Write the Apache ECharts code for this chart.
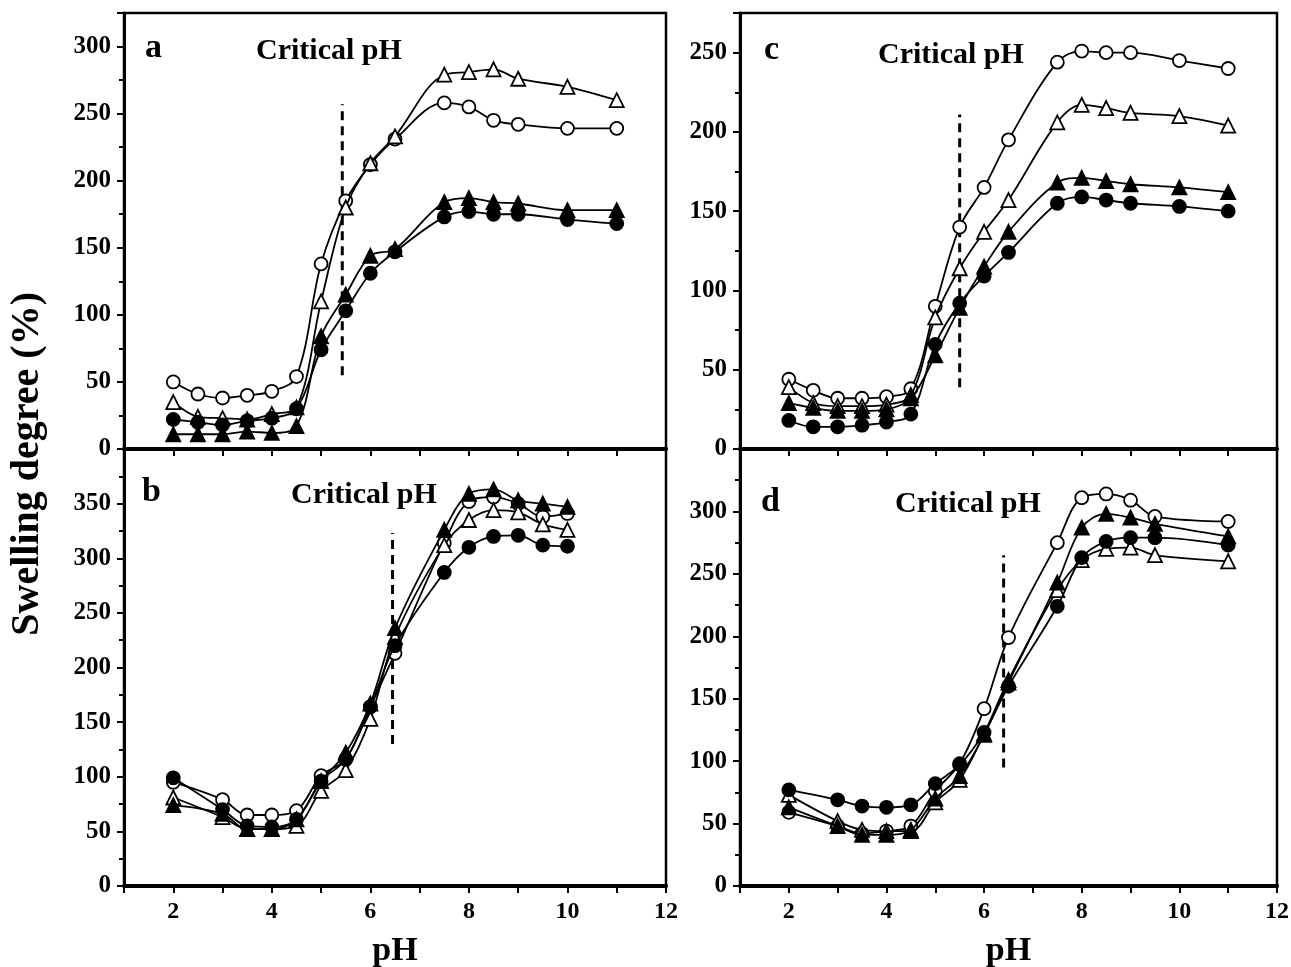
<!DOCTYPE html>
<html>
<head>
<meta charset="utf-8">
<script src="https://cdn.jsdelivr.net/npm/echarts@6/dist/echarts.min.js"></script>
<style>
html,body{margin:0;padding:0;background:#fff;}
#main{width:1291px;height:967px;}
</style>
</head>
<body>
<div id="main"></div>
<script>
// ---------- DATA ----------
const panelNames = ['a', 'b', 'c', 'd'];
const xTickLabels = [2, 4, 6, 8, 10, 12];
const yMax = [325, 400, 275, 350];

// pH values per panel
const phA = [2, 2.5, 3, 3.5, 4, 4.5, 5, 5.5, 6, 6.5, 7.5, 8, 8.5, 9, 10, 11];
const phB = [2, 3, 3.5, 4, 4.5, 5, 5.5, 6, 6.5, 7.5, 8, 8.5, 9, 9.5, 10];
const phC = [2, 2.5, 3, 3.5, 4, 4.5, 5, 5.5, 6, 6.5, 7.5, 8, 8.5, 9, 10, 11];
const phD = [2, 3, 3.5, 4, 4.5, 5, 5.5, 6, 6.5, 7.5, 8, 8.5, 9, 9.5, 11];

// Panel a
const aOpenCircle   = [50, 41, 38, 40, 43, 54, 138, 185, 212, 231, 258, 255, 245, 242, 239, 239];
const aOpenTriangle = [35, 24, 23, 22, 26, 31, 110, 180, 213, 233, 279, 281, 283, 276, 270, 260];
const aFillTriangle = [11, 11, 11, 13, 12, 17, 84, 115, 144, 149, 184, 187, 184, 183, 178, 178];
const aFillCircle   = [22, 20, 18, 21, 23, 30, 74, 103, 131, 147, 173, 177, 175, 175, 171, 168];

// Panel b
const bOpenCircle   = [95, 79, 65, 65, 69, 101, 116, 164, 213, 314, 352, 356, 350, 338, 341];
const bOpenTriangle = [81, 63, 52, 52, 55, 87, 106, 153, 228, 312, 335, 344, 342, 331, 326];
const bFillTriangle = [74, 66, 52, 52, 61, 96, 122, 167, 236, 326, 359, 363, 353, 350, 347];
const bFillCircle   = [99, 70, 55, 54, 61, 96, 116, 164, 220, 287, 310, 320, 321, 312, 311];

// Panel c
const cOpenCircle   = [44, 37, 32, 32, 33, 38, 90, 140, 165, 195, 244, 251, 250, 250, 245, 240];
const cOpenTriangle = [39, 29, 27, 27, 28, 34, 83, 114, 137, 157, 206, 217, 215, 212, 210, 204];
const cFillTriangle = [29, 26, 24, 24, 25, 32, 59, 89, 115, 137, 168, 171, 169, 167, 165, 162];
const cFillCircle   = [18, 14, 14, 15, 17, 22, 66, 92, 109, 124, 155, 159, 157, 155, 153, 150];

// Panel d
const dOpenCircle   = [59, 48, 42, 44, 48, 76, 98, 142, 199, 275, 311, 314, 309, 296, 292];
const dOpenTriangle = [73, 52, 45, 44, 44, 67, 85, 122, 165, 237, 261, 270, 271, 265, 260];
const dFillTriangle = [63, 48, 41, 41, 45, 70, 88, 121, 163, 243, 287, 298, 295, 290, 280];
const dFillCircle   = [77, 69, 64, 63, 65, 82, 97, 123, 160, 224, 263, 276, 279, 279, 273];

// Critical pH dashed markers: [pH, yLow, yHigh]
const criticalA = [5.43, 55, 257];
const criticalB = [6.45, 130, 323];
const criticalC = [5.5, 39, 211];
const criticalD = [6.4, 95, 265];

// ---------- CHART ----------
const FONT = '"Liberation Serif", "Times New Roman", serif';
const grids = [
  {left: 124, top: 13, width: 542, height: 436},
  {left: 124, top: 449, width: 542, height: 437},
  {left: 740, top: 13, width: 537, height: 436},
  {left: 740, top: 449, width: 537, height: 437}
];

const panels = [
  {x: phA, sets: [aOpenCircle, aOpenTriangle, aFillTriangle, aFillCircle], crit: criticalA},
  {x: phB, sets: [bOpenCircle, bOpenTriangle, bFillTriangle, bFillCircle], crit: criticalB},
  {x: phC, sets: [cOpenCircle, cOpenTriangle, cFillTriangle, cFillCircle], crit: criticalC},
  {x: phD, sets: [dOpenCircle, dOpenTriangle, dFillTriangle, dFillCircle], crit: criticalD}
];
const styles = [
  {symbol: 'circle', size: 13, fill: '#fff'},
  {symbol: 'triangle', size: 14, fill: '#fff'},
  {symbol: 'triangle', size: 14, fill: '#000'},
  {symbol: 'circle', size: 13, fill: '#000'}
];

const xAxes = [], yAxes = [], series = [];
panels.forEach((p, gi) => {
  const isBottom = gi === 1 || gi === 3;
  xAxes.push({
    type: 'value', gridIndex: gi, min: 1, max: 12, interval: 1,
    axisLine: {show: true, onZero: false, lineStyle: {color: '#000', width: 4}},
    axisTick: {show: true, inside: false, length: 7, lineStyle: {color: '#000', width: 2}},
    splitLine: {show: false},
    axisLabel: {
      show: isBottom, margin: 14, color: '#000',
      fontFamily: FONT, fontWeight: 'bold', fontSize: 24,
      formatter: v => (xTickLabels.indexOf(v) >= 0 ? String(v) : '')
    },
    name: isBottom ? 'pH' : '', nameLocation: 'middle', nameGap: 48,
    nameTextStyle: {color: '#000', fontFamily: FONT, fontWeight: 'bold', fontSize: 34}
  });
  yAxes.push({
    type: 'value', gridIndex: gi, min: 0, max: yMax[gi], interval: 50,
    axisLine: {show: true, onZero: false, lineStyle: {color: '#000', width: 3}},
    axisTick: {show: true, inside: false, length: 7, lineStyle: {color: '#000', width: 2}},
    minorTick: {show: true, splitNumber: 2, length: 5, lineStyle: {color: '#000', width: 2}},
    splitLine: {show: false},
    axisLabel: {
      show: true, margin: 13, color: '#000', showMaxLabel: false,
      fontFamily: FONT, fontWeight: 'bold', fontSize: 25
    }
  });
  p.sets.forEach((ys, si) => {
    const st = styles[si];
    series.push({
      type: 'line', xAxisIndex: gi, yAxisIndex: gi,
      data: p.x.map((x, i) => [x, ys[i]]),
      smooth: 0.35, symbol: st.symbol, symbolSize: st.size, showSymbol: true,
      lineStyle: {color: '#000', width: 1.8},
      itemStyle: {color: st.fill, borderColor: '#000', borderWidth: 1.8},
      z: 3 + si, animation: false, clip: false
    });
  });
  series.push({
    type: 'line', xAxisIndex: gi, yAxisIndex: gi,
    data: [[p.crit[0], p.crit[1]], [p.crit[0], p.crit[2]]],
    symbol: 'none',
    lineStyle: {color: '#000', width: 3, type: [9, 6]},
    z: 2, animation: false
  });
});

const textStyle = (x, y, t, size) => ({
  type: 'text', left: x, top: y,
  style: {text: t, fill: '#000', font: 'bold ' + size + 'px ' + FONT}
});

const option = {
  backgroundColor: '#fff',
  animation: false,
  grid: grids.map(g => Object.assign({
    show: true, borderColor: '#000', borderWidth: 2.5, backgroundColor: 'transparent',
    containLabel: false, outerBoundsMode: 'none'
  }, g)),
  xAxis: xAxes,
  yAxis: yAxes,
  series: series,
  graphic: [
    textStyle(145, 31, 'a', 34),
    textStyle(142, 475, 'b', 34),
    textStyle(764, 33, 'c', 34),
    textStyle(761, 485, 'd', 34),
    textStyle(256, 36, 'Critical pH', 30),
    textStyle(291, 480, 'Critical pH', 30),
    textStyle(878, 40, 'Critical pH', 30),
    textStyle(895, 489, 'Critical pH', 30),
    {
      type: 'text', left: 8, top: 292, rotation: Math.PI / 2,
      style: {text: 'Swelling degree (%)', fill: '#000', font: 'bold 40px ' + FONT}
    }
  ]
};

const chart = echarts.init(document.getElementById('main'), null, {renderer: 'canvas'});
chart.setOption(option);
</script>
</body>
</html>
